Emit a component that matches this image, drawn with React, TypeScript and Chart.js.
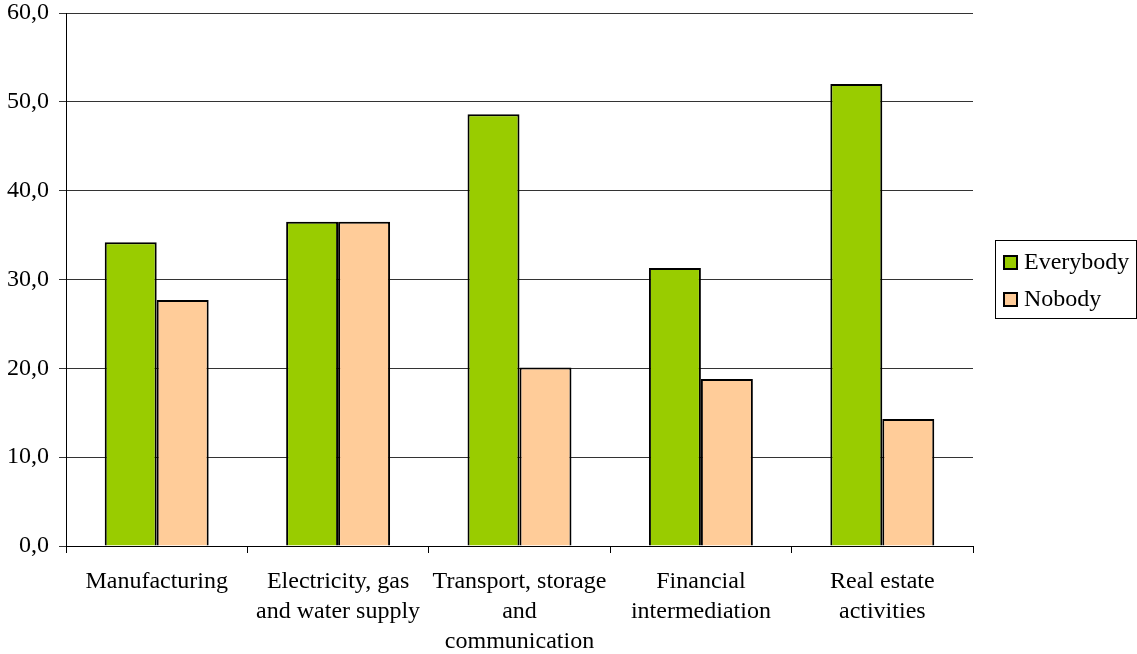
import React, { useEffect, useRef } from "react";
import { Chart, registerables } from "chart.js";

Chart.register(...registerables);

const categories: string[][] = [
  ["Manufacturing"],
  ["Electricity, gas", "and water supply"],
  ["Transport, storage", "and", "communication"],
  ["Financial", "intermediation"],
  ["Real estate", "activities"],
];
const everybody = [34.2, 36.5, 48.6, 31.3, 52.0];
const nobody = [27.7, 36.5, 20.1, 18.8, 14.3];
const seriesNames = ["Everybody", "Nobody"];
const seriesColors = ["#99CC00", "#FFCC99"];

const FONT_FAMILY = "'Liberation Serif', 'Times New Roman', serif";
const FONT_SIZE = 24;

const legendPlugin = {
  id: "boxLegend",
  afterDraw(chart: any) {
    const ctx = chart.ctx;
    const x0 = 995;
    const y0 = 240;
    const w = 141;
    const h = 78;
    ctx.save();
    ctx.strokeStyle = "#000";
    ctx.lineWidth = 1;
    ctx.strokeRect(x0 + 0.5, y0 + 0.5, w, h);
    ctx.font = `${FONT_SIZE}px ${FONT_FAMILY}`;
    ctx.textBaseline = "middle";
    chart.data.datasets.forEach((ds: any, i: number) => {
      const cy = y0 + 22 + i * 37;
      ctx.fillStyle = ds.backgroundColor;
      ctx.fillRect(x0 + 9, cy - 6, 13, 13);
      ctx.strokeStyle = "#000";
      ctx.lineWidth = 2;
      ctx.strokeRect(x0 + 9, cy - 6, 13, 13);
      ctx.fillStyle = "#000";
      ctx.fillText(ds.label, x0 + 29, cy + 1);
    });
    ctx.restore();
  },
};

export default function App() {
  const ref = useRef<HTMLCanvasElement | null>(null);
  useEffect(() => {
    if (!ref.current) return;
    const chart = new Chart(ref.current, {
      type: "bar",
      data: {
        labels: categories,
        datasets: [
          {
            label: seriesNames[0],
            data: everybody,
            backgroundColor: seriesColors[0],
            borderColor: "#000",
            borderWidth: 2,
            categoryPercentage: 0.573,
            barPercentage: 1,
          },
          {
            label: seriesNames[1],
            data: nobody,
            backgroundColor: seriesColors[1],
            borderColor: "#000",
            borderWidth: 2,
            categoryPercentage: 0.573,
            barPercentage: 1,
          },
        ],
      },
      options: {
        animation: false,
        responsive: false,
        maintainAspectRatio: false,
        layout: { padding: { top: 13, right: 164, left: 0, bottom: 0 } },
        plugins: {
          legend: { display: false },
          tooltip: { enabled: false },
        },
        scales: {
          x: {
            afterFit: (s: any) => {
              s.height = 108;
              s.paddingLeft = 0;
              s.paddingRight = 0;
            },
            border: { display: true, color: "#000", width: 1 },
            grid: {
              offset: true,
              drawOnChartArea: false,
              drawTicks: true,
              tickLength: 7,
              color: "#000",
            },
            ticks: {
              color: "#000",
              padding: 14,
              maxRotation: 0,
              autoSkip: false,
              font: { family: FONT_FAMILY, size: FONT_SIZE, lineHeight: 1.25 },
            },
          },
          y: {
            min: 0,
            max: 60,
            afterFit: (s: any) => {
              s.width = 66;
              s.paddingTop = 0;
              s.paddingBottom = 0;
            },
            border: { display: true, color: "#000", width: 1 },
            grid: {
              color: "#333",
              tickLength: 7,
              drawTicks: true,
            },
            ticks: {
              stepSize: 10,
              color: "#000",
              padding: 10,
              font: { family: FONT_FAMILY, size: FONT_SIZE },
              callback: (v: any) => Number(v).toFixed(1).replace(".", ","),
            },
          },
        },
      },
      plugins: [legendPlugin],
    });
    return () => chart.destroy();
  }, []);
  return (
    <div style={{ position: "fixed", left: 0, top: 0, width: 1137, height: 654, background: "#fff" }}>
      <canvas ref={ref} width={1137} height={654} style={{ width: 1137, height: 654 }} />
    </div>
  );
}
